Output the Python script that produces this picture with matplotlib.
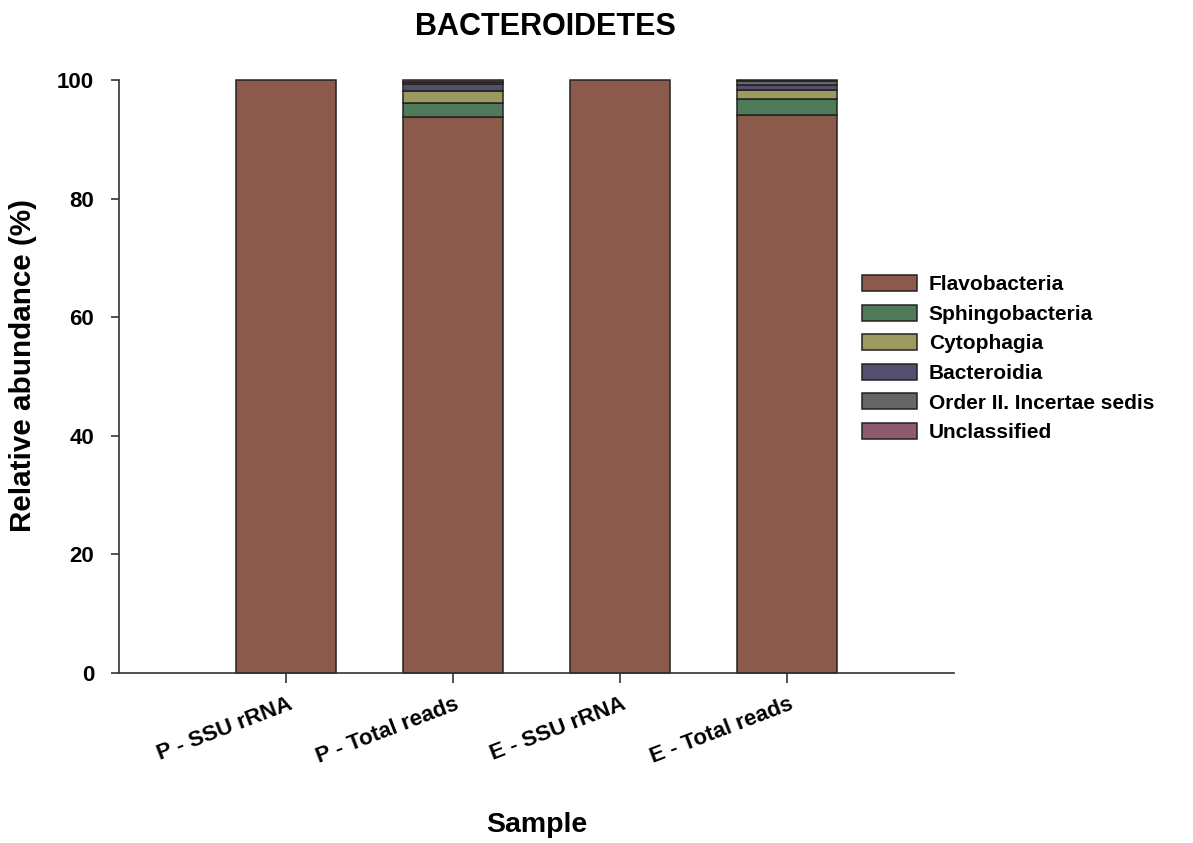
import matplotlib
matplotlib.use("Agg")
import matplotlib.pyplot as plt
import matplotlib.transforms as mtransforms
import numpy as np

samples = ["P - SSU rRNA", "P - Total reads", "E - SSU rRNA", "E - Total reads"]
classes = ["Flavobacteria", "Sphingobacteria", "Cytophagia", "Bacteroidia",
           "Order II. Incertae sedis", "Unclassified"]
flavobacteria = [100.0, 93.7, 100.0, 94.1]
sphingobacteria = [0.0, 2.5, 0.0, 2.7]
cytophagia = [0.0, 2.0, 0.0, 1.5]
bacteroidia = [0.0, 1.2, 0.0, 0.9]
order_ii = [0.0, 0.3, 0.0, 0.6]
unclassified = [0.0, 0.3, 0.0, 0.2]
colors = ["#8B5A4A", "#4E7A5A", "#9C9A5E", "#554E6E", "#666666", "#8F5A70"]

series = [flavobacteria, sphingobacteria, cytophagia, bacteroidia, order_ii, unclassified]

plt.rcParams['font.family'] = ['Liberation Sans', 'DejaVu Sans']
fig = plt.figure(figsize=(11.93, 8.43), dpi=100)
ax = fig.add_axes([0.0998, 0.2017, 0.6999, 0.7034])

x = np.arange(len(samples))
bottom = np.zeros(len(samples))
handles = []
edge = "#222222"
for name, vals, c in zip(classes, series, colors):
    vals = np.array(vals)
    lws = np.where(vals > 0, 1.1, 0.0)
    ax.bar(x, vals, 0.6, bottom=bottom, color=c, edgecolor=edge,
           linewidth=lws, label=name)
    handles.append(plt.Rectangle((0, 0), 1, 1, facecolor=c, edgecolor=edge, linewidth=1.1))
    bottom += vals

ax.set_xlim(-1.0, 4.0)
ax.set_ylim(0, 100)
ax.set_yticks([0, 20, 40, 60, 80, 100])
ax.set_xticks(x)
ax.set_xticklabels(samples, rotation=21, ha="right", va="top", fontsize=16,
                   fontweight="bold")
for lab in ax.get_yticklabels():
    lab.set_fontweight("bold")
    lab.set_fontsize(16)
ax.tick_params(axis="x", direction="out", length=7, width=1.2, pad=8, color="#333333")
ax.tick_params(axis="y", direction="out", length=6, width=1.2, pad=12, color="#333333")
for s in ["top", "right"]:
    ax.spines[s].set_visible(False)
for s in ["left", "bottom"]:
    ax.spines[s].set_linewidth(1.2)
    ax.spines[s].set_color("#333333")
for b in ax.patches:
    b.set_clip_on(False)

ax.set_ylabel("Relative abundance (%)", fontsize=21.3, fontweight="bold")
ax.yaxis.set_label_coords(-0.115, 0.519)
ax.yaxis.label.set_va("center")
ax.set_xlabel("Sample", fontsize=20.5, fontweight="bold")
ax.xaxis.set_label_coords(0.5, -0.256)
ax.xaxis.label.set_va("center")
fig.text(545 / 1193, 1 - 27 / 843, "BACTEROIDETES", fontsize=22, fontweight="bold",
         ha="center", va="center")

leg = fig.legend(handles=handles, labels=classes, loc="upper left",
                 bbox_to_anchor=(862 / 1193, 1 - 275 / 843), frameon=False,
                 prop={"size": 15, "weight": "bold"}, handlelength=2.65,
                 handleheight=0.8, labelspacing=0.5, handletextpad=0.55,
                 borderpad=0, borderaxespad=0)

fig.canvas.draw()
offset = mtransforms.ScaledTranslation(9 / 100, 0, fig.dpi_scale_trans)
for tick in ax.xaxis.get_major_ticks():
    tick.label1.set_transform(tick.label1.get_transform() + offset)

fig.savefig("out.png", dpi=100)
